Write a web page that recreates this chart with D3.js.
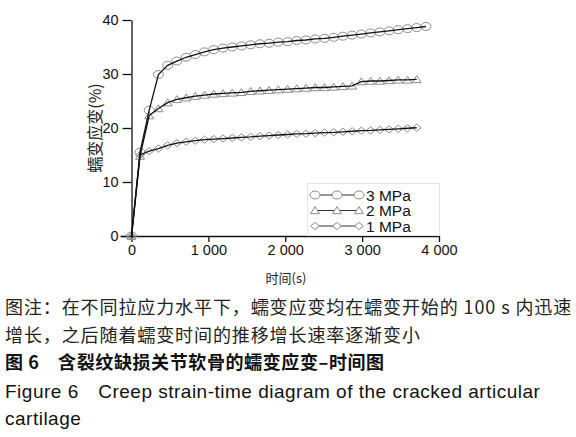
<!DOCTYPE html>
<html>
<head>
<meta charset="utf-8">
<script src="https://cdn.jsdelivr.net/npm/d3@7"></script>
<style>
  html, body { margin: 0; padding: 0; background: #fff; }
  svg { display: block; }
  .lat { font-family: "Liberation Sans", Arial, sans-serif; }
  .cjk { font-family: "Noto Sans CJK SC", "Liberation Sans", sans-serif; }
</style>
</head>
<body>
<div id="chart"></div>
<script>
// tiempos de medida (s) y deformación (%) por nivel de carga
const TIME = [0, 110, 230, 350, 470, 590, 710, 830, 950, 1070, 1190, 1310, 1430, 1550, 1670, 1790,
  1910, 2030, 2150, 2270, 2390, 2510, 2630, 2750, 2870, 2990, 3110, 3230, 3350, 3470, 3590, 3710, 3830];
const S3 = [0, 15.5, 23.3, 29.9, 31.6, 32.4, 33.1, 33.6, 34.1, 34.5, 34.8, 35.0, 35.2, 35.4, 35.6, 35.7,
  35.9, 36.0, 36.2, 36.3, 36.5, 36.6, 36.8, 37.0, 37.2, 37.4, 37.6, 37.8, 38.0, 38.2, 38.4, 38.6, 38.8];
const S2 = [0, 14.8, 22.3, 23.6, 24.7, 25.3, 25.6, 25.9, 26.1, 26.3, 26.4, 26.5, 26.6, 26.8, 26.9, 27.0,
  27.1, 27.2, 27.3, 27.4, 27.5, 27.5, 27.6, 27.7, 27.8, 28.6, 28.7, 28.7, 28.8, 28.9, 28.9, 29.0];
const S1 = [0, 15.0, 15.7, 16.2, 16.8, 17.2, 17.45, 17.65, 17.85, 17.95, 18.05, 18.15, 18.25, 18.35, 18.5, 18.6,
  18.7, 18.8, 18.9, 18.95, 19.05, 19.15, 19.2, 19.3, 19.4, 19.5, 19.55, 19.65, 19.75, 19.85, 19.95, 20.05];
const SERIES = ["3 MPa", "2 MPa", "1 MPa"];
const MARKS = ["circle", "triangle", "diamond"];
const X_TICKS = [0, 1000, 2000, 3000, 4000];
const Y_TICKS = [0, 10, 20, 30, 40];

const CAPTION = [
  "图注：在不同拉应力水平下，蠕变应变均在蠕变开始的 100 s 内迅速",
  "增长，之后随着蠕变时间的推移增长速率逐渐变小"
];
const FIG_CN = "图 6　含裂纹缺损关节软骨的蠕变应变–时间图";
const FIG_EN = ["Figure 6　Creep strain-time diagram of the cracked articular", "cartilage"];

const W = 576, H = 437;
const svg = d3.select("#chart").append("svg").attr("width", W).attr("height", H);
svg.append("rect").attr("width", W).attr("height", H).attr("fill", "#fff");

const x = d3.scaleLinear().domain([-150, 4000]).range([120, 439]);
const y = d3.scaleLinear().domain([0, 40]).range([236, 20]);

// marcadores (huecos, gris)
function marker(type) {
  if (type === "circle") return "M-5,0A5,4 0 1,0 5,0A5,4 0 1,0 -5,0Z";
  if (type === "triangle") return "M0,-3.8L4.5,3.2L-4.5,3.2Z";
  return "M0,-3.6L4.4,0L0,3.6L-4.4,0Z";
}
const MK = "#8c8c8c";

// ejes: menores sin texto, mayores con texto
const fmt = d => d3.format(",")(d).replace(",", " ");
const gx = svg.append("g").attr("transform", `translate(0,${y(0)})`);
gx.call(d3.axisBottom(x).tickValues([500, 1500, 2500, 3500]).tickSize(4).tickSizeOuter(0).tickFormat(""));
gx.call(d3.axisBottom(x).tickValues(X_TICKS).tickSize(6).tickSizeOuter(0).tickFormat(fmt).tickPadding(3));
const gy = svg.append("g").attr("transform", `translate(${x(0)},0)`);
gy.call(d3.axisLeft(y).tickValues([5, 15, 25, 35]).tickSize(6).tickSizeOuter(0).tickFormat(""));
gy.call(d3.axisLeft(y).tickValues(Y_TICKS).tickSize(9).tickSizeOuter(0).tickPadding(4));
svg.selectAll(".tick text").attr("class", "lat").attr("font-size", 14.5).attr("fill", "#111");
svg.selectAll(".domain, .tick line").attr("stroke", "#111").attr("stroke-width", 1.3);

// títulos de ejes
svg.append("text").attr("class", "cjk").attr("font-size", 13).attr("fill", "#222")
  .attr("x", 286).attr("y", 283).attr("text-anchor", "middle").text("时间(s)");
svg.append("text").attr("class", "cjk").attr("font-size", 16).attr("fill", "#222")
  .attr("transform", `translate(101,128) rotate(-90)`).attr("text-anchor", "middle").text("蠕变应变(%)");

// series
const data = [S3, S2, S1].map((v, i) => ({
  name: SERIES[i], mark: MARKS[i], pts: v.map((s, j) => ({ t: TIME[j], s }))
}));
const line = d3.line().x(d => x(d.t)).y(d => y(d.s));
const gs = svg.append("g");
data.forEach(sr => {
  gs.selectAll(null).data(sr.pts).join("path")
    .attr("transform", d => `translate(${x(d.t)},${y(d.s)})`)
    .attr("d", marker(sr.mark)).attr("fill", "none").attr("stroke", MK).attr("stroke-width", 1);
});
data.forEach(sr => {
  gs.append("path").datum(sr.pts).attr("d", line)
    .attr("fill", "none").attr("stroke", "#111").attr("stroke-width", 1.3);
});

// leyenda
const lg = svg.append("g");
lg.append("rect").attr("x", 307.5).attr("y", 183.5).attr("width", 132).attr("height", 52)
  .attr("fill", "#fff").attr("stroke", "#e4e4e4");
data.forEach((sr, i) => {
  const yy = 195 + i * 15.5;
  lg.append("line").attr("x1", 315).attr("x2", 359).attr("y1", yy).attr("y2", yy)
    .attr("stroke", "#333").attr("stroke-width", 1);
  [315, 337, 359].forEach(px => lg.append("path").attr("transform", `translate(${px},${yy})`)
    .attr("d", marker(sr.mark)).attr("fill", "#fff").attr("stroke", MK));
  lg.append("text").attr("class", "lat").attr("x", 366).attr("y", yy + 5.5)
    .attr("font-size", 15.5).attr("fill", "#111").text(sr.name);
});

// pie de figura
CAPTION.forEach((t, i) => svg.append("text").attr("class", "cjk").attr("x", 5).attr("y", 314 + i * 28)
  .attr("font-size", 18).attr("letter-spacing", 0.9).attr("fill", "#222").text(t));
svg.append("text").attr("class", "cjk").attr("x", 5).attr("y", 369).attr("font-size", 18)
  .attr("font-weight", "bold").attr("letter-spacing", 0.6).attr("fill", "#111").text(FIG_CN);
FIG_EN.forEach((t, i) => svg.append("text").attr("class", "lat").attr("x", 5).attr("y", 398 + i * 27)
  .attr("font-size", 19).attr("letter-spacing", 0.5).attr("fill", "#111").text(t));
</script>
</body>
</html>
